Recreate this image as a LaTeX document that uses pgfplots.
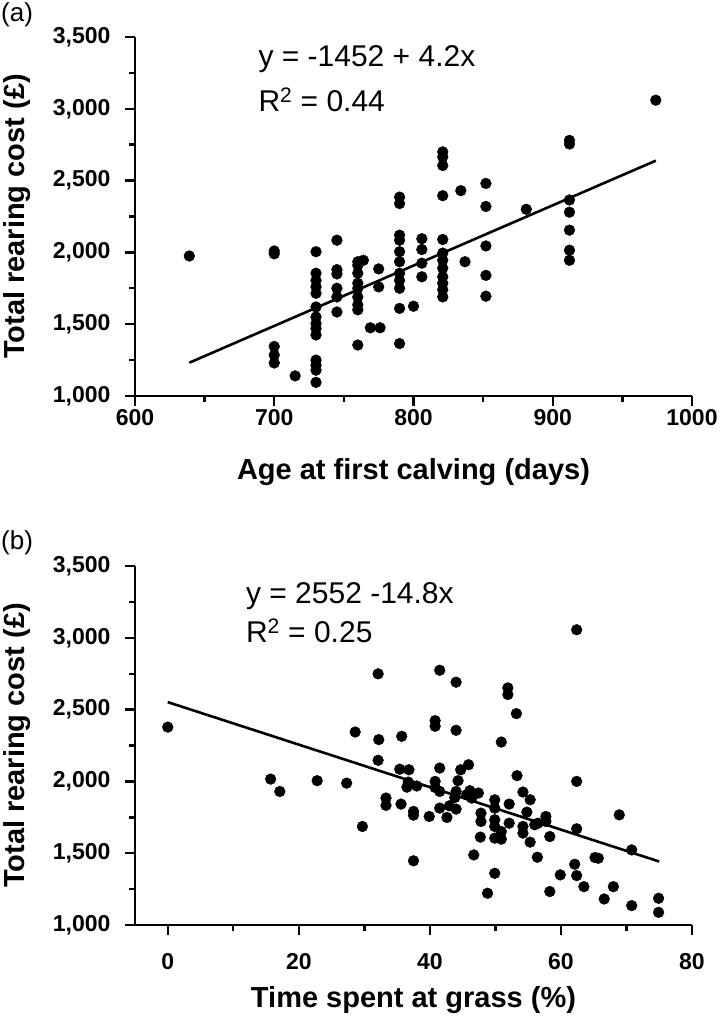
\documentclass[border=0pt]{standalone}
\usepackage{pgfplots}
\pgfplotsset{compat=1.18}
\usepackage{fontspec}
\setmainfont{Liberation Sans}

\pgfplotstableread{
x y
639 1975
700 2010
700 1990
700 1345
700 1285
700 1230
715 1140
730 2005
730 1855
730 1805
730 1760
730 1715
730 1620
730 1550
730 1505
730 1470
730 1425
730 1250
730 1215
730 1180
730 1095
745 2085
745 1880
745 1850
745 1750
745 1690
745 1585
760 1935
760 1910
760 1855
760 1785
760 1750
760 1690
760 1635
760 1600
760 1355
764 1945
769 1475
776 1475
775 1885
775 1760
790 2385
790 2340
790 2120
790 2085
790 2005
790 1935
790 1855
790 1805
790 1750
790 1610
790 1365
800 1625
806 2095
806 2020
806 1925
806 1830
821 2700
821 2665
821 2605
821 2395
821 2090
821 1995
821 1945
821 1890
821 1830
821 1785
821 1740
821 1690
834 2430
837 1935
852 2480
852 2320
852 2045
852 1840
852 1695
881 2300
912 2780
912 2755
912 2365
912 2280
912 2155
912 2015
912 1945
974 3060
}\agedata

\pgfplotstableread{
x y
0 2378
15.7 2016
17.1 1930
22.8 2005
27.3 1988
28.6 2344
29.7 1686
32.1 2749
32.2 2291
32.1 2147
33.3 1884
33.3 1833
35.7 2314
35.4 2085
36.8 2081
35.6 1842
36.5 1960
36.7 1995
37.5 1791
37.5 1765
37.5 1447
38.0 1968
39.9 1756
40.8 2423
40.8 2384
40.8 2000
40.8 1958
41.5 2774
41.5 2093
41.5 1930
41.5 1814
42.6 1749
43.0 1830
43.8 1888
44.0 2691
44.0 2356
44.0 1930
44.0 1807
44.3 2005
44.7 2081
45.6 1907
45.9 2116
46.1 1935
46.4 1884
46.7 1488
47.4 1919
47.7 1612
47.8 1779
47.8 1721
48.8 1221
49.9 1872
49.9 1814
49.9 1733
49.9 1686
49.9 1605
49.9 1360
50.9 2274
50.9 1651
50.9 1598
51.9 2651
51.9 2605
52.1 1842
52.1 1709
53.2 2472
53.3 2040
54.2 1926
54.2 1686
54.2 1640
54.8 1786
55.3 1872
55.3 1577
56.0 1698
56.4 1472
56.5 1709
57.7 1756
57.7 1721
58.3 1616
58.3 1233
59.9 1349
62.1 1423
62.4 3056
62.4 2000
62.4 1670
62.4 1344
63.5 1267
65.2 1470
65.7 1465
66.6 1181
68.0 1267
68.9 1767
70.8 1523
70.8 1135
74.9 1186
74.9 1088
}\grassdata

\tikzset{eqtext/.style={anchor=base west, font=\fontsize{30}{32}\selectfont, inner sep=0pt}}

\begin{document}
\begin{tikzpicture}
\useasboundingbox (0,0) rectangle (720pt,1023pt);
\pgfplotsset{
 myaxis/.style={
  scale only axis, width=557pt, height=359pt, anchor=south west,
  axis lines=left, axis line style={-, line width=2.4pt},
  tick align=outside, major tick length=10pt, minor tick length=6pt,
  every tick/.style={black, line width=2.4pt},
  ymin=1000, ymax=3500, ytick={1000,1500,...,3500}, minor ytick={1250,1750,...,3250},
  tick label style={font=\fontsize{23}{25}\selectfont\bfseries},
  /pgf/number format/assume math mode=true,
  yticklabel style={/pgf/number format/1000 sep={,}, xshift=-11pt},
  xticklabel style={/pgf/number format/1000 sep={}},
  label style={font=\fontsize{29}{31}\selectfont\bfseries},
  ylabel style={at={(axis description cs:-0.212,0.5)}, anchor=center},
  ylabel={Total rearing cost (£)},
  clip=false,
 },
 mydots/.style={only marks, mark=*, mark size=5.4pt, mark options={fill=black, draw=black}},
 myfit/.style={black, line width=2.6pt, no marks},
}
\begin{axis}[myaxis, at={(135pt,627pt)},
  xmin=600, xmax=1000, xtick={600,700,...,1000}, minor xtick={650,750,850,950},
  xlabel style={at={(axis description cs:0.5,-0.212)}, anchor=center},
  xlabel={Age at first calving (days)}]
\addplot[mydots] table[x=x,y=y] {\agedata};
\addplot[myfit] coordinates {(639,1231.8) (974,2638.8)};
\node[eqtext] at (rel axis cs:0.2214,0.917) {y = -1452 + 4.2x};
\node[eqtext] at (rel axis cs:0.2214,0.792) {R\textsuperscript{2} = 0.44};
\end{axis}
\begin{axis}[myaxis, at={(135pt,98pt)},
  xmin=-5, xmax=80, xtick={0,20,...,80}, minor xtick={10,30,50,70},
  xticklabel style={yshift=-15pt},
  xlabel style={at={(axis description cs:0.5,-0.21)}, anchor=center},
  xlabel={Time spent at grass (\%)}]
\addplot[mydots] table[x=x,y=y] {\grassdata};
\addplot[myfit] coordinates {(0,2552) (75,1442)};
\node[eqtext] at (rel axis cs:0.199,0.8966) {y = 2552 -14.8x};
\node[eqtext] at (rel axis cs:0.199,0.7877) {R\textsuperscript{2} = 0.25};
\end{axis}
\node[anchor=north west, inner sep=0pt, font=\fontsize{26}{28}\selectfont] at (1pt,1021pt) {(a)};
\node[anchor=north west, inner sep=0pt, font=\fontsize{26}{28}\selectfont] at (1pt,493pt) {(b)};
\end{tikzpicture}
\end{document}
